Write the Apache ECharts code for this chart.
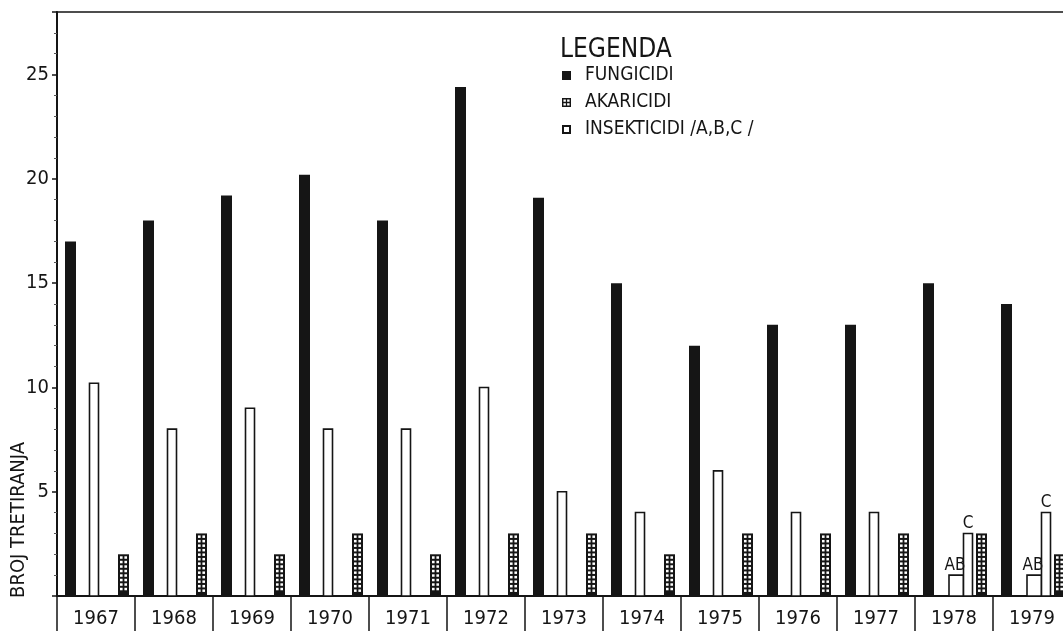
<!DOCTYPE html>
<html>
<head>
<meta charset="utf-8">
<script src="https://cdn.jsdelivr.net/npm/echarts@6/dist/echarts.min.js"></script>
<style>
html,body{margin:0;padding:0;background:#fff;overflow:hidden;width:1063px;height:631px;}
#chart{width:1080px;height:631px;}
</style>
</head>
<body>
<div id="chart"></div>
<script>
// ---- data ----
var years = ['1967','1968','1969','1970','1971','1972','1973','1974','1975','1976','1977','1978','1979'];
var fungicidi   = [17, 18, 19.2, 20.2, 18, 24.4, 19.1, 15, 12, 13, 13, 15, 14];
var akaricidi   = [2, 3, 2, 3, 2, 3, 3, 2, 3, 3, 3, 3, 2];
// insecticides: total (or part C when split) and the A+B part for split years
var insekticidi   = [10.2, 8, 9, 8, 8, 10, 5, 4, 6, 4, 4, 3, 4];
var insekticidiAB = [null, null, null, null, null, null, null, null, null, null, null, 1, 1];
var yTicks = [5, 10, 15, 20, 25];

var INK = '#151515';
var FONT = "'Liberation Sans Narrow','DejaVu Sans Condensed','Arial Narrow','DejaVu Sans',sans-serif";

function renderFung(params, api) {
  var idx = api.value(0), v = api.value(1);
  var base = api.coord([idx, 0]), top = api.coord([idx, v]);
  var w = 11, x0 = base[0] - 25.5 - w / 2;
  return {type: 'rect', shape: {x: x0, y: top[1], width: w, height: base[1] - top[1]},
          style: {fill: INK}};
}

function renderAkar(params, api) {
  var idx = api.value(0), v = api.value(1);
  var base = api.coord([idx, 0]), top = api.coord([idx, v]);
  var w = 11, x0 = base[0] + 27.5 - w / 2;
  var children = [{type: 'rect', shape: {x: x0, y: top[1], width: w, height: base[1] - top[1]},
                   style: {fill: INK}}];
  for (var y = top[1] + 2; y + 2.5 <= base[1] - 1.5; y += 4.5) {
    children.push({type: 'rect', shape: {x: x0 + 2, y: y, width: 2.6, height: 2.5}, style: {fill: '#fff'}});
    children.push({type: 'rect', shape: {x: x0 + 6.4, y: y, width: 2.6, height: 2.5}, style: {fill: '#fff'}});
  }
  return {type: 'group', children: children};
}

function renderInsect(params, api) {
  var idx = api.value(0), v = api.value(1);
  var ab = insekticidiAB[idx];
  var base = api.coord([idx, 0]), top = api.coord([idx, v]);
  var cx = base[0];
  var st = {fill: '#fff', stroke: INK, lineWidth: 1.6};
  if (ab == null) {
    return {type: 'rect', shape: {x: cx - 2 - 4.5, y: top[1], width: 9, height: base[1] - top[1]}, style: st};
  }
  var abTop = api.coord([idx, ab]);
  var xa = cx - 5, xj = cx + 9.5, xc = cx + 18.5;
  return {type: 'group', children: [
    {type: 'rect', shape: {x: xa, y: abTop[1], width: xj - xa, height: base[1] - abTop[1]}, style: st},
    {type: 'rect', shape: {x: xj, y: top[1], width: xc - xj, height: base[1] - top[1]}, style: st},
    {type: 'text', style: {text: 'AB', x: cx + 1, y: abTop[1] - 1, align: 'center', verticalAlign: 'bottom',
      fill: INK, font: "17px " + FONT}},
    {type: 'text', style: {text: 'C', x: (xj + xc) / 2, y: top[1] - 1, align: 'center', verticalAlign: 'bottom',
      fill: INK, font: "17px " + FONT}}
  ]};
}

function rows(arr) { return arr.map(function (v, i) { return [i, v]; }); }

var chart = echarts.init(document.getElementById('chart'), null, {renderer: 'canvas'});
chart.setOption({
  animation: false,
  backgroundColor: '#fff',
  title: {
    text: 'LEGENDA', left: 555, top: 32,
    textStyle: {fontFamily: FONT, fontSize: 26, fontWeight: 'normal', color: INK}
  },
  legend: {
    orient: 'vertical', left: 557, top: 61, itemWidth: 9, itemHeight: 9, itemGap: 8,
    selectedMode: false,
    textStyle: {fontFamily: FONT, fontSize: 19, color: INK, padding: [0, 0, 0, 9]},
    data: [
      {name: 'FUNGICIDI', icon: 'rect'},
      {name: 'AKARICIDI', icon: 'path://M0,0L10,0L10,10L0,10Z M1.6,1.6L1.6,4.3L4.3,4.3L4.3,1.6Z M5.7,1.6L5.7,4.3L8.4,4.3L8.4,1.6Z M1.6,5.7L1.6,8.4L4.3,8.4L4.3,5.7Z M5.7,5.7L5.7,8.4L8.4,8.4L8.4,5.7Z'},
      {name: 'INSEKTICIDI /A,B,C /', icon: 'path://M0,0L10,0L10,10L0,10Z M2.2,2.2L2.2,7.8L7.8,7.8L7.8,2.2Z'}
    ]
  },
  grid: {left: 57, top: 12, right: 9, height: 584, show: true, borderColor: INK, borderWidth: 1.5,
         backgroundColor: 'transparent', containLabel: false},
  xAxis: {
    type: 'category', data: years, boundaryGap: true,
    axisLine: {show: true, lineStyle: {color: INK, width: 2}},
    axisTick: {show: true, interval: 0, alignWithLabel: false, length: 40, lineStyle: {color: INK, width: 1.5}},
    axisLabel: {interval: 0, margin: 13, fontFamily: FONT, fontSize: 20, color: INK},
    splitLine: {show: false}
  },
  yAxis: {
    type: 'value', min: 0, max: 28, interval: 5,
    axisLine: {show: true, lineStyle: {color: INK, width: 2}},
    axisTick: {show: true, length: 5, lineStyle: {color: INK, width: 1.5}},
    minorTick: {show: true, splitNumber: 5, length: 3, lineStyle: {color: '#555', width: 1}},
    axisLabel: {margin: 8, fontFamily: FONT, fontSize: 20, color: INK,
      formatter: function (v) { return yTicks.indexOf(v) >= 0 ? String(v) : ''; }},
    splitLine: {show: false}
  },
  graphic: [{
    type: 'text', x: 19, y: 520, rotation: Math.PI / 2,
    style: {text: 'BROJ TRETIRANJA', align: 'center', verticalAlign: 'middle', fill: INK, font: "20px " + FONT}
  }],
  series: [
    {name: 'FUNGICIDI', type: 'custom', renderItem: renderFung, data: rows(fungicidi),
     itemStyle: {color: INK}, encode: {x: 0, y: 1}},
    {name: 'INSEKTICIDI /A,B,C /', type: 'custom', renderItem: renderInsect, data: rows(insekticidi),
     itemStyle: {color: INK}, encode: {x: 0, y: 1}},
    {name: 'AKARICIDI', type: 'custom', renderItem: renderAkar, data: rows(akaricidi),
     itemStyle: {color: INK}, encode: {x: 0, y: 1}}
  ]
});
</script>
</body>
</html>
